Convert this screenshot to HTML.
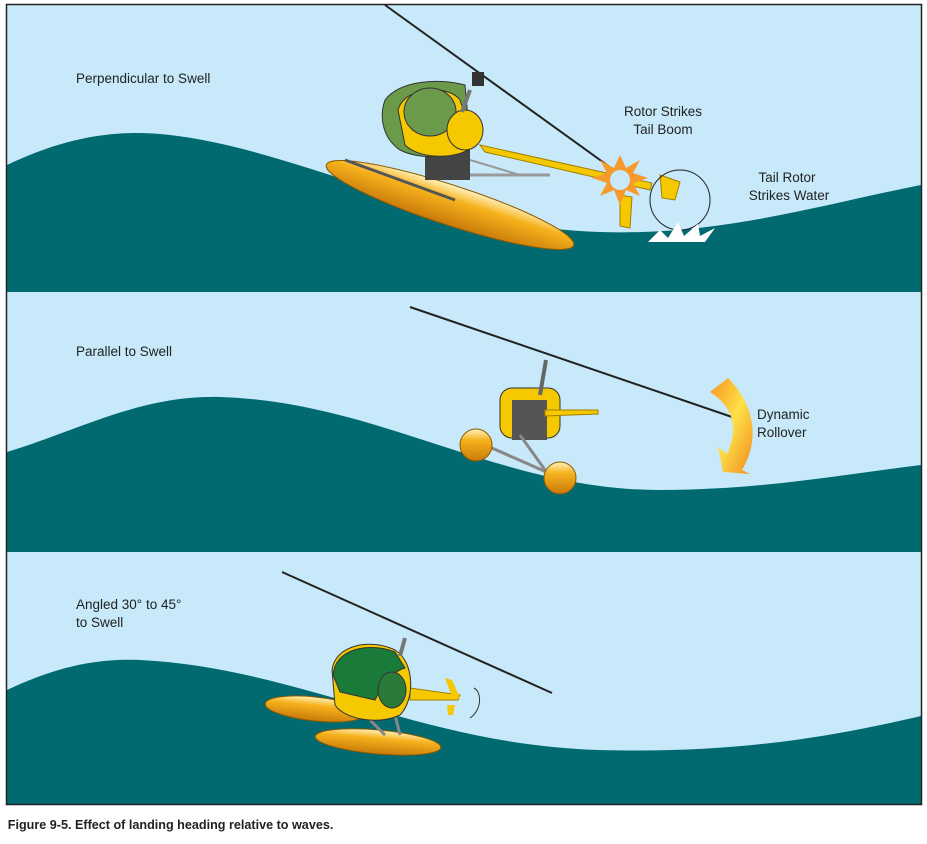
<!DOCTYPE html>
<html><head><style>
body{margin:0;background:#fff;width:927px;height:839px;overflow:hidden;font-family:"Liberation Sans",sans-serif}
</style></head><body>
<svg width="927" height="839" viewBox="0 0 927 839" xmlns="http://www.w3.org/2000/svg" font-family="Liberation Sans, sans-serif">
<defs>
<linearGradient id="fl" x1="0" y1="0" x2="0" y2="1">
<stop offset="0" stop-color="#fff3c0"/><stop offset="0.35" stop-color="#f6b21c"/><stop offset="1" stop-color="#c97a0a"/>
</linearGradient>
<linearGradient id="ar" x1="0" y1="0" x2="1" y2="1">
<stop offset="0" stop-color="#f7941d"/><stop offset="0.5" stop-color="#ffe04a"/><stop offset="1" stop-color="#f08a1c"/>
</linearGradient>
</defs>
<!-- panel 1 -->
<rect x="7" y="5" width="914" height="287" fill="#c7e9f9"/>
<path d="M7,165 C60,140 110,128 170,135 C300,150 420,225 600,232 C720,236 820,205 921,185 L921,292 L7,292 Z" fill="#006a70"/>
<!-- panel 2 -->
<rect x="7" y="292" width="914" height="260" fill="#c7e9f9"/>
<path d="M7,452 C80,430 140,395 220,397 C380,402 500,490 660,490 C760,490 840,475 921,465 L921,552 L7,552 Z" fill="#006a70"/>
<!-- panel 3 -->
<rect x="7" y="552" width="914" height="252" fill="#c7e9f9"/>
<path d="M7,690 C50,670 90,658 140,660 C300,668 420,745 600,750 C740,754 840,735 921,716 L921,804 L7,804 Z" fill="#006a70"/>
<rect x="6.5" y="4.5" width="915" height="800" fill="none" stroke="#222" stroke-width="1.5"/>

<!-- heli 1 -->
<line x1="385" y1="5" x2="632" y2="183" stroke="#222" stroke-width="2"/>
<ellipse cx="450" cy="205" rx="130" ry="20" transform="rotate(18 450 205)" fill="url(#fl)" stroke="#8a5a00" stroke-width="1"/>
<line x1="345" y1="160" x2="455" y2="200" stroke="#555" stroke-width="3"/>
<rect x="425" y="140" width="45" height="40" fill="#444"/>
<line x1="470" y1="175" x2="550" y2="175" stroke="#999" stroke-width="3"/>
<line x1="470" y1="160" x2="520" y2="175" stroke="#999" stroke-width="2"/>
<polygon points="480,145 485,152 650,190 652,183" fill="#f5c800" stroke="#a08000" stroke-width="1"/>
<polygon points="660,175 680,182 675,200 662,198" fill="#f5c800" stroke="#a08000"/>
<polygon points="620,195 632,197 630,228 620,226" fill="#f5c800" stroke="#a08000"/>
<path d="M385,100 C400,80 440,78 465,85 L470,140 C455,160 420,160 400,150 C385,140 378,120 385,100 Z" fill="#6a9a4a" stroke="#333"/>
<path d="M398,110 C405,85 450,85 460,100 L475,145 C460,160 420,160 405,145 Z" fill="#f5c800" stroke="#333"/>
<ellipse cx="430" cy="112" rx="26" ry="24" fill="#6a9a4a" stroke="#333"/>
<ellipse cx="465" cy="130" rx="18" ry="20" fill="#f5c800" stroke="#333"/>
<line x1="470" y1="90" x2="462" y2="112" stroke="#777" stroke-width="4"/>
<rect x="472" y="72" width="12" height="14" fill="#333"/>
<polygon points="620,155 626,168 640,160 633,173 648,178 633,183 640,196 626,190 620,205 614,190 600,196 607,183 592,178 607,173 600,160 614,168" fill="#f79a2b"/>
<circle cx="620" cy="180" r="10" fill="#c7e9f9"/>
<circle cx="680" cy="200" r="30" fill="none" stroke="#222" stroke-width="1"/>
<path d="M648,242 L660,230 L668,238 L678,222 L684,236 L698,224 L700,236 L715,228 L705,242 Z" fill="#fff"/>

<!-- heli 2 -->
<line x1="410" y1="307" x2="735" y2="418" stroke="#222" stroke-width="2"/>
<rect x="500" y="388" width="60" height="50" rx="12" fill="#f5c800" stroke="#333"/>
<rect x="512" y="400" width="35" height="40" fill="#555"/>
<polygon points="545,410 598,410 598,414 545,416" fill="#f5c800" stroke="#a08000"/>
<line x1="546" y1="360" x2="540" y2="395" stroke="#666" stroke-width="4"/>
<line x1="485" y1="445" x2="560" y2="478" stroke="#888" stroke-width="3"/>
<line x1="520" y1="435" x2="545" y2="470" stroke="#888" stroke-width="3"/>
<circle cx="476" cy="445" r="16" fill="url(#fl)" stroke="#8a5a00"/>
<circle cx="560" cy="478" r="16" fill="url(#fl)" stroke="#8a5a00"/>
<path d="M710,392 L728,378 C755,405 760,440 742,470 L750,474 L723,472 L718,447 L727,454 C738,430 735,408 710,392 Z" fill="url(#ar)"/>

<!-- heli 3 -->
<line x1="282" y1="572" x2="552" y2="693" stroke="#222" stroke-width="2"/>
<ellipse cx="315" cy="709" rx="50" ry="12" transform="rotate(6 315 709)" fill="url(#fl)" stroke="#8a5a00"/>
<ellipse cx="378" cy="742" rx="63" ry="12" transform="rotate(5 378 742)" fill="url(#fl)" stroke="#8a5a00"/>
<line x1="370" y1="720" x2="385" y2="735" stroke="#888" stroke-width="3"/>
<line x1="395" y1="715" x2="400" y2="735" stroke="#888" stroke-width="3"/>
<polygon points="410,688 460,695 458,700 410,700" fill="#f5c800" stroke="#a08000"/>
<polygon points="445,678 452,680 460,698 453,700" fill="#f5c800"/>
<polygon points="447,705 455,705 453,715 448,715" fill="#f5c800"/>
<path d="M332,670 C335,645 370,638 395,650 C415,662 415,700 400,715 C380,725 345,720 335,705 Z" fill="#f5c800" stroke="#333"/>
<path d="M333,675 C335,648 370,642 395,652 L405,668 C390,672 380,690 375,700 L340,692 Z" fill="#1a7a3a" stroke="#333"/>
<ellipse cx="392" cy="690" rx="14" ry="18" fill="#2a7a3a" stroke="#333"/>
<line x1="405" y1="638" x2="400" y2="656" stroke="#777" stroke-width="4"/>
<path d="M474,688 C482,692 482,710 470,718" fill="none" stroke="#333"/>

<g font-size="13.5" fill="#222">
<text x="76" y="83">Perpendicular to Swell</text>
<text x="663" y="116" text-anchor="middle">Rotor Strikes</text>
<text x="663" y="134" text-anchor="middle">Tail Boom</text>
<text x="787" y="182" text-anchor="middle">Tail Rotor</text>
<text x="789" y="200" text-anchor="middle">Strikes Water</text>
<text x="76" y="356">Parallel to Swell</text>
<text x="757" y="419">Dynamic</text>
<text x="757" y="437">Rollover</text>
<text x="76" y="609">Angled 30° to 45°</text>
<text x="76" y="627">to Swell</text>
</g>
<text x="8" y="829" font-size="13" font-weight="bold" fill="#222" transform="scale(0.97 1)">Figure 9-5. Effect of landing heading relative to waves.</text>
</svg>
</body></html>
